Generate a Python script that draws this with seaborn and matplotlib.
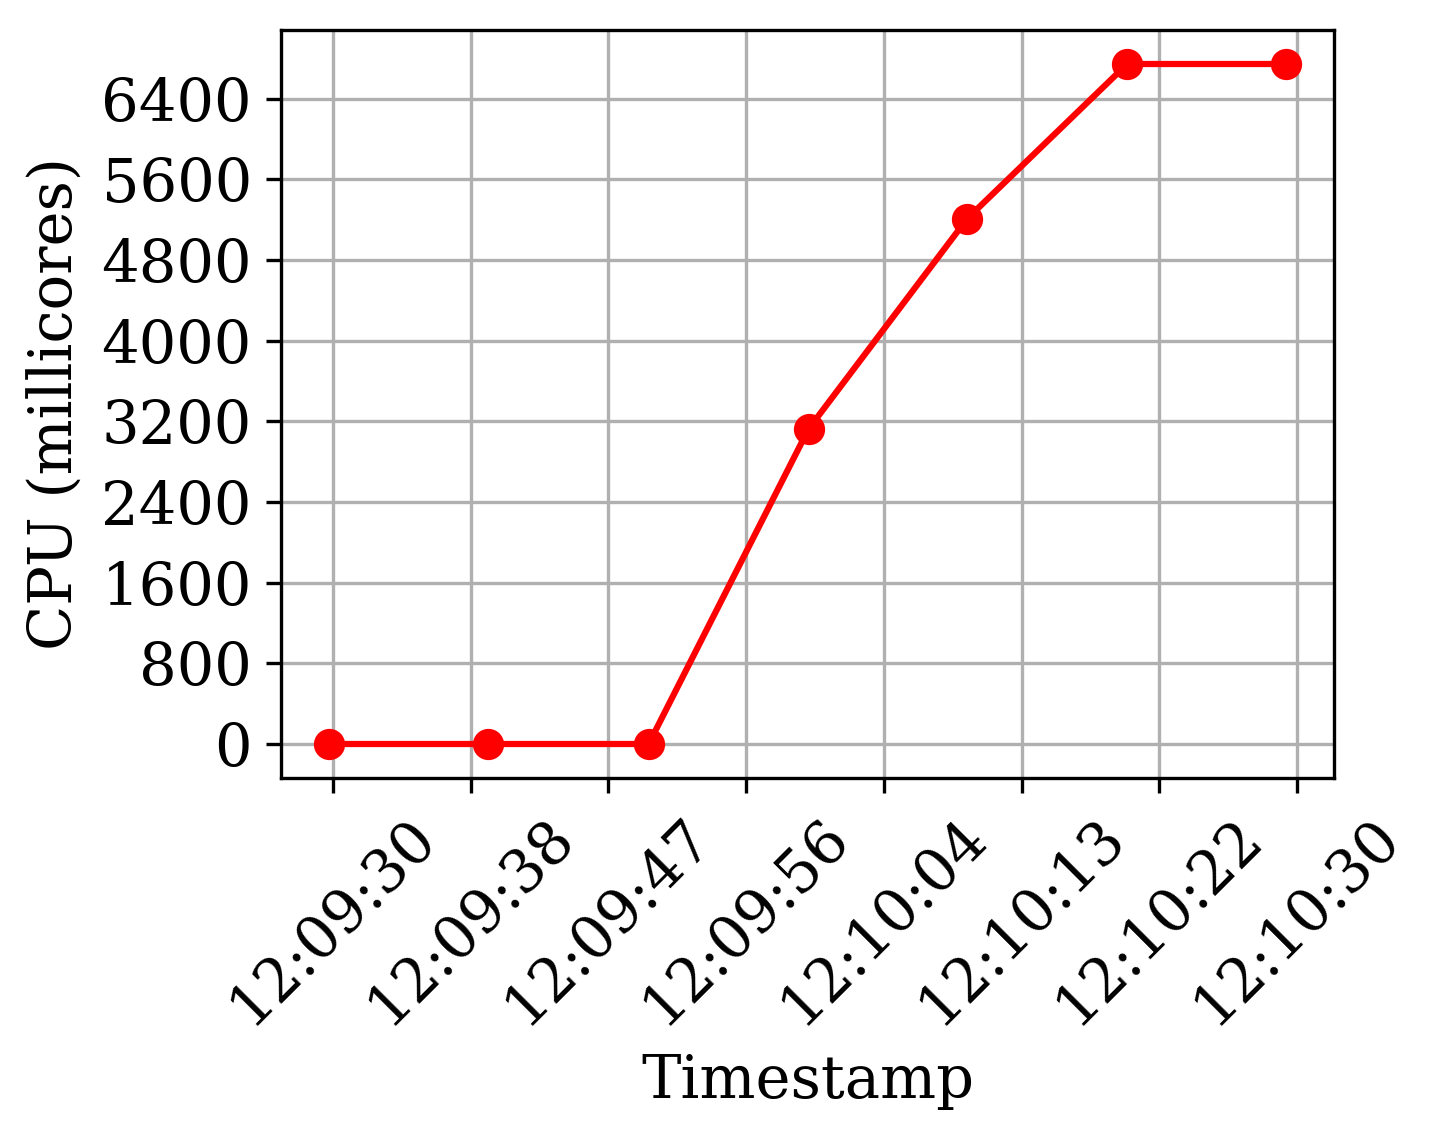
import pandas as pd
import numpy as np
import matplotlib
matplotlib.use("Agg")
import matplotlib.pyplot as plt
import matplotlib.ticker as mticker
import seaborn as sns

# valores
timestamps = ["12:09:29.75", "12:09:39.64", "12:09:49.65", "12:09:59.60",
              "12:10:09.48", "12:10:19.43", "12:10:29.32"]
cpu_millicores = [0, 0, 0, 3125, 5212, 6745, 6745]

tick_labels = ["12:09:30", "12:09:38", "12:09:47", "12:09:56",
               "12:10:04", "12:10:13", "12:10:22", "12:10:30"]
tick_times = ["12:09:30.00", "12:09:38.57", "12:09:47.14", "12:09:55.71",
              "12:10:04.29", "12:10:12.86", "12:10:21.43", "12:10:30.00"]

dia = "2024-01-01 "
df = pd.DataFrame({
    "Timestamp": pd.to_datetime([dia + t for t in timestamps]),
    "CPU": cpu_millicores,
})

plt.rcParams["font.family"] = ["DejaVu Serif"]
plt.rcParams["font.size"] = 14.2

fig = plt.figure(figsize=(4.8, 3.79), dpi=300)
ax = fig.add_axes([281 / 1440, 1 - 778 / 1137, (1334 - 281) / 1440, (778 - 30) / 1137])

sns.lineplot(data=df, x="Timestamp", y="CPU", color="red", marker="o",
             markersize=6.5, markeredgecolor="red", markeredgewidth=1.0,
             linewidth=1.5, ax=ax)

ax.set_xticks(pd.to_datetime([dia + t for t in tick_times]))
ax.set_xticklabels(tick_labels, rotation=45)
ax.yaxis.set_major_locator(mticker.MultipleLocator(800))
ax.grid(True, color="#b0b0b0", linewidth=0.8)
ax.set_xlabel("Timestamp")
ax.set_ylabel("CPU (millicores)")

fig.savefig("out.png", dpi=300)
